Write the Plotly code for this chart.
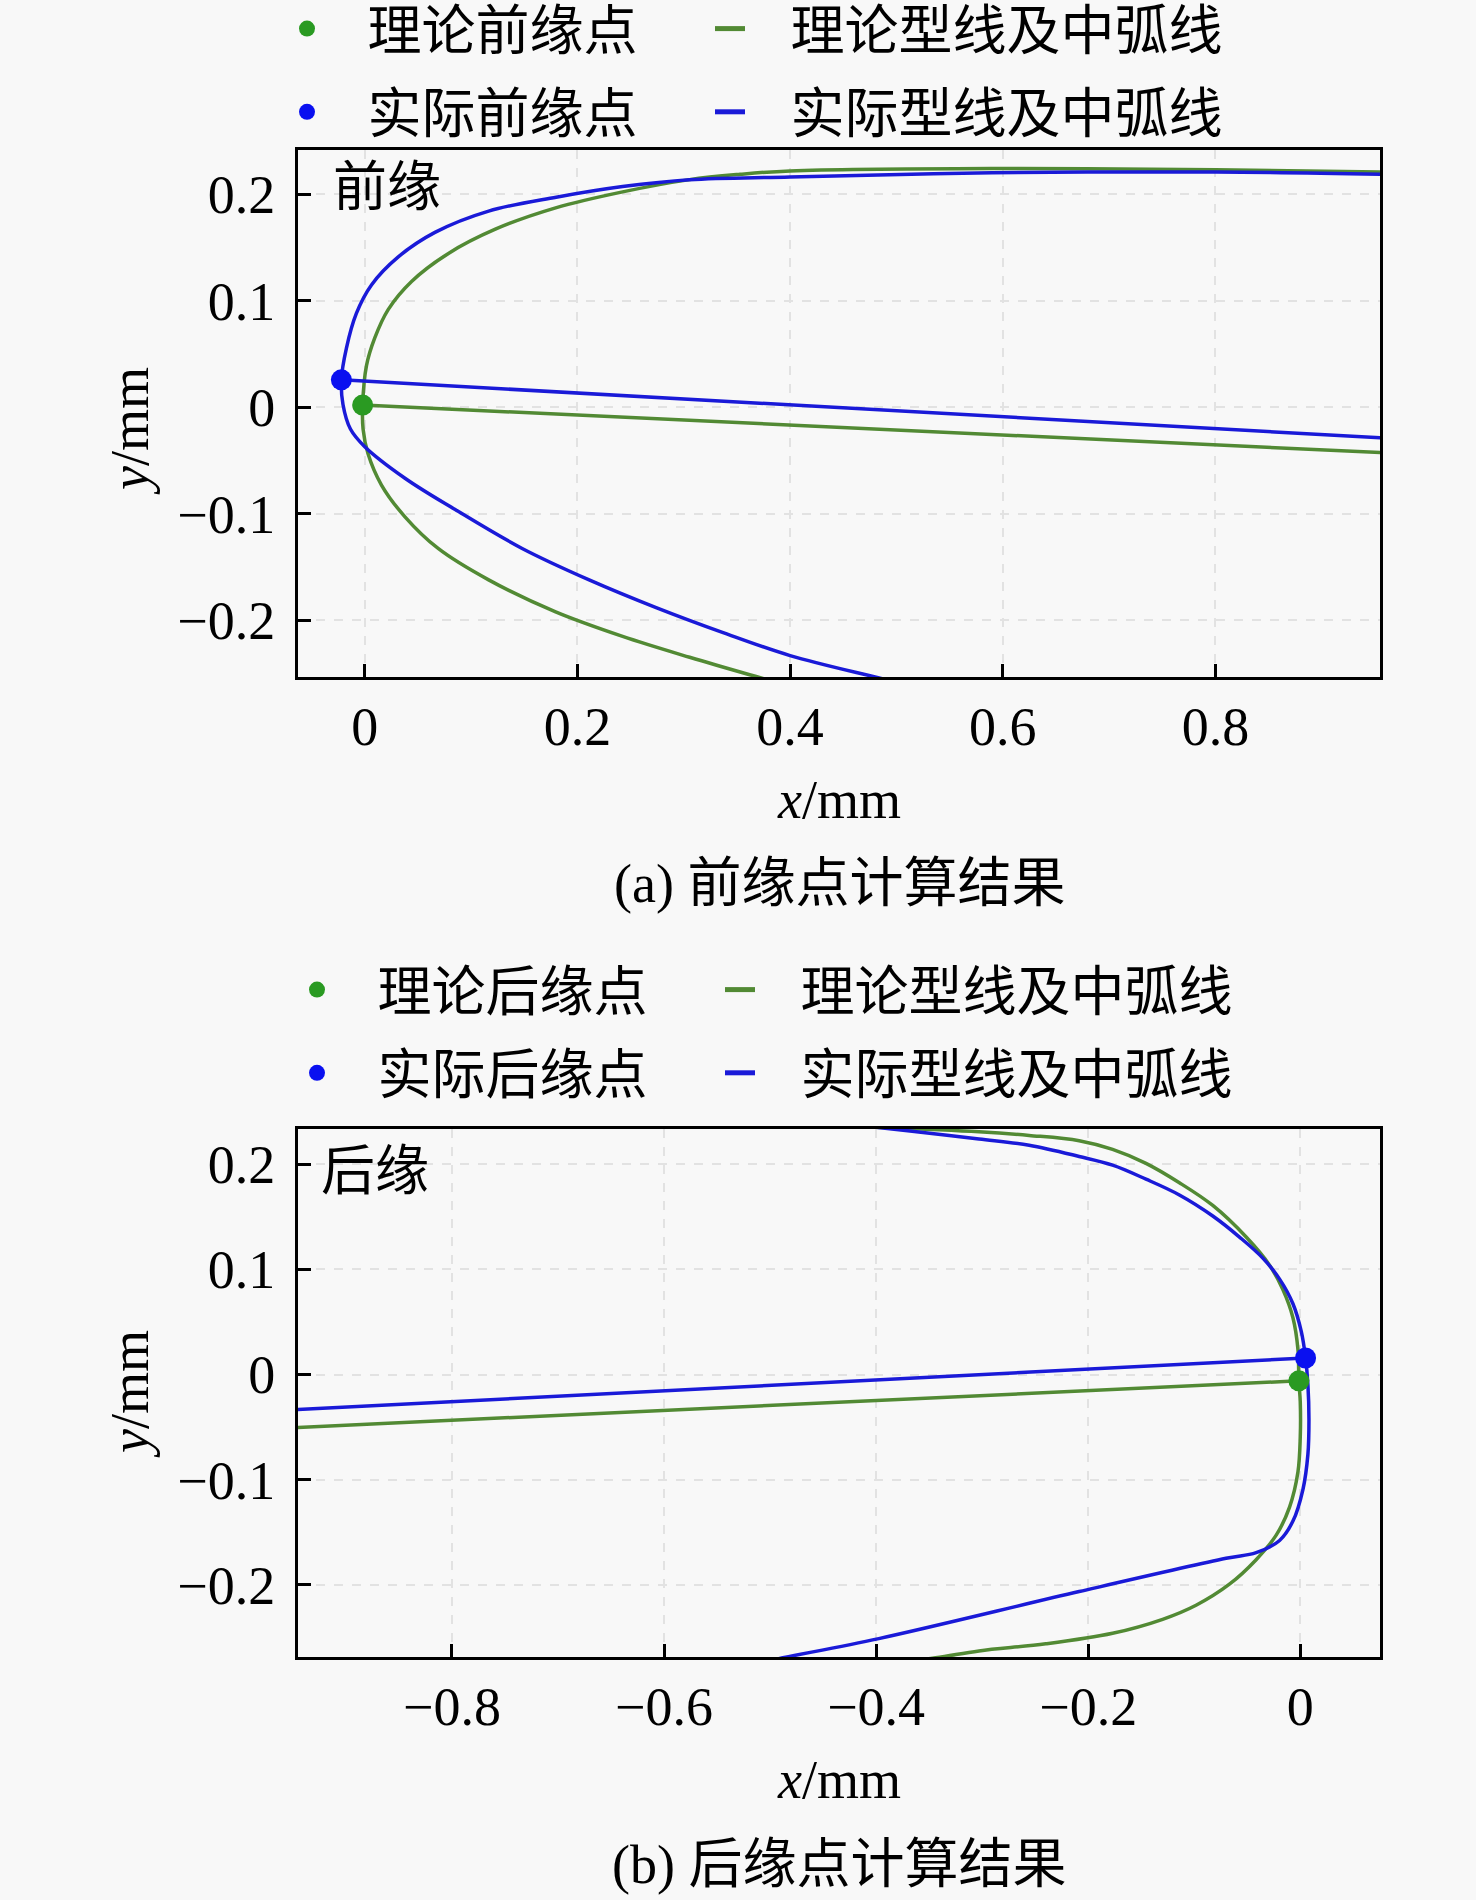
import plotly.graph_objects as go

# ---- (a) leading edge ----
le_theo_pt = (-0.002, 0.002)
le_real_pt = (-0.022, 0.0257)

le_theo_upper_x = [-0.002, 0.0016, 0.0094, 0.022, 0.044, 0.0787, 0.1228, 0.1795, 0.2425, 0.3055, 0.353, 0.4, 0.59, 0.8, 0.96]
le_theo_upper_y = [0.002, 0.039, 0.065, 0.0916, 0.118, 0.1443, 0.167, 0.187, 0.202, 0.2135, 0.2185, 0.2217, 0.224, 0.2227, 0.2205]
le_theo_lower_x = [-0.002, -0.0016, 0.003, 0.0157, 0.0378, 0.069, 0.1165, 0.1795, 0.2425, 0.3055, 0.362, 0.38]
le_theo_lower_y = [0.002, -0.0204, -0.0435, -0.073, -0.1028, -0.1325, -0.162, -0.192, -0.215, -0.2346, -0.251, -0.256]
le_theo_camber_x = [-0.002, 0.96]
le_theo_camber_y = [0.002, -0.0428]

le_real_upper_x = [-0.022, -0.0173, -0.0079, 0.0063, 0.0315, 0.066, 0.1165, 0.18, 0.2425, 0.3055, 0.4, 0.59, 0.8, 0.96]
le_real_upper_y = [0.0257, 0.0553, 0.088, 0.1147, 0.141, 0.164, 0.184, 0.197, 0.207, 0.2135, 0.216, 0.22, 0.2207, 0.2185]
le_real_lower_x = [-0.022, -0.0205, -0.0135, 0.0, 0.0378, 0.085, 0.148, 0.211, 0.274, 0.337, 0.4, 0.48, 0.5]
le_real_lower_y = [0.0257, 0.0026, -0.0204, -0.037, -0.0666, -0.096, -0.1325, -0.162, -0.188, -0.2115, -0.233, -0.2531, -0.258]
le_real_camber_x = [-0.022, 0.96]
le_real_camber_y = [0.0257, -0.029]

# ---- (b) trailing edge ----
te_theo_pt = (-0.0013, -0.006)
te_real_pt = (0.005, 0.0157)

te_theo_upper_x = [-0.0013, -0.0022, -0.0069, -0.0164, -0.029, -0.051, -0.0825, -0.114, -0.1455, -0.177, -0.2085, -0.2557, -0.303, -0.4]
te_theo_upper_y = [-0.006, 0.024, 0.054, 0.0807, 0.104, 0.1307, 0.1607, 0.1823, 0.2007, 0.214, 0.2223, 0.2273, 0.2307, 0.235]
te_theo_lower_x = [-0.0013, 0.0, 0.0, -0.0022, -0.0101, -0.0227, -0.0416, -0.0668, -0.0983, -0.1298, -0.177, -0.24, -0.303, -0.344, -0.4]
te_theo_lower_y = [-0.006, -0.026, -0.0593, -0.0927, -0.126, -0.1527, -0.176, -0.1993, -0.2193, -0.2327, -0.246, -0.256, -0.2627, -0.2693, -0.276]
te_theo_camber_x = [-0.0013, -0.96]
te_theo_camber_y = [-0.006, -0.051]

te_real_upper_x = [0.005, 0.001, -0.0069, -0.0195, -0.0353, -0.0573, -0.0825, -0.114, -0.1455, -0.177, -0.2085, -0.2557, -0.303, -0.366, -0.4]
te_real_upper_y = [0.0157, 0.0407, 0.0673, 0.0907, 0.1107, 0.1307, 0.1507, 0.1707, 0.1857, 0.199, 0.2073, 0.218, 0.224, 0.2313, 0.235]
te_real_lower_x = [0.005, 0.0072, 0.0082, 0.0072, 0.0025, -0.0069, -0.0195, -0.0416, -0.07, -0.2085, -0.3975, -0.4866, -0.5]
te_real_lower_y = [0.0157, -0.0093, -0.0427, -0.076, -0.1093, -0.1393, -0.1577, -0.1693, -0.1747, -0.2063, -0.251, -0.269, -0.272]
te_real_camber_x = [0.005, -0.96]
te_real_camber_y = [0.0157, -0.0341]

GREEN_PT = "#2a9a22"
GREEN_LN = "#528a34"
BLUE_PT = "#0a10f0"
BLUE_LN = "#1a1ad8"
FONT = "Liberation Serif, Times New Roman, Noto Sans CJK SC"
FS = 54
W, H = 1476, 1900
PAD_PT = "&nbsp;&nbsp;&nbsp;"
PAD_LN = "&nbsp;&nbsp;&nbsp;"


def px(v):
    return v / W


def py(v):
    return 1 - v / H


fig = go.Figure()


def add_profile(xa, ya, upper, lower, camber, color, name, legend):
    ux, uy = upper
    lx, ly = lower
    xs = list(reversed(lx)) + ux[1:]
    ys = list(reversed(ly)) + uy[1:]
    group = name + legend
    fig.add_trace(go.Scatter(x=xs, y=ys, mode="lines",
                             line=dict(color=color, width=3.5, shape="spline", smoothing=1.0),
                             name=name, legendgroup=group, showlegend=False,
                             legend=legend, xaxis=xa, yaxis=ya))
    fig.add_trace(go.Scatter(x=camber[0], y=camber[1], mode="lines", line=dict(color=color, width=3.5),
                             name=name, legendgroup=group, showlegend=False,
                             legend=legend, xaxis=xa, yaxis=ya))
    # legend entry only (thicker key like the reference)
    fig.add_trace(go.Scatter(x=[None], y=[None], mode="lines", line=dict(color=color, width=5),
                             name=PAD_LN + name, legendgroup=group,
                             legend=legend, xaxis=xa, yaxis=ya))


def add_point(xa, ya, pt, color, name, legend):
    fig.add_trace(go.Scatter(x=[pt[0]], y=[pt[1]], mode="markers",
                             marker=dict(color=color, size=21), name=PAD_PT + name,
                             legendgroup=name + legend, legend=legend, xaxis=xa, yaxis=ya))


# top panel
add_profile("x", "y", (le_theo_upper_x, le_theo_upper_y), (le_theo_lower_x, le_theo_lower_y),
            (le_theo_camber_x, le_theo_camber_y), GREEN_LN, "理论型线及中弧线", "legend2")
add_profile("x", "y", (le_real_upper_x, le_real_upper_y), (le_real_lower_x, le_real_lower_y),
            (le_real_camber_x, le_real_camber_y), BLUE_LN, "实际型线及中弧线", "legend2")
add_point("x", "y", le_theo_pt, GREEN_PT, "理论前缘点", "legend")
add_point("x", "y", le_real_pt, BLUE_PT, "实际前缘点", "legend")

# bottom panel
add_profile("x2", "y2", (te_theo_upper_x, te_theo_upper_y), (te_theo_lower_x, te_theo_lower_y),
            (te_theo_camber_x, te_theo_camber_y), GREEN_LN, "理论型线及中弧线", "legend4")
add_profile("x2", "y2", (te_real_upper_x, te_real_upper_y), (te_real_lower_x, te_real_lower_y),
            (te_real_camber_x, te_real_camber_y), BLUE_LN, "实际型线及中弧线", "legend4")
add_point("x2", "y2", te_theo_pt, GREEN_PT, "理论后缘点", "legend3")
add_point("x2", "y2", te_real_pt, BLUE_PT, "实际后缘点", "legend3")

axis_common = dict(
    showline=True, linecolor="black", linewidth=3, mirror=True,
    ticks="inside", ticklen=13, tickwidth=3, tickcolor="black",
    showgrid=True, gridcolor="#e2e2e2", griddash="dash", gridwidth=1.5,
    zeroline=False, tickfont=dict(family=FONT, size=FS, color="black"),
    dtick=0.1,
)

legend_common = dict(font=dict(family=FONT, size=FS, color="black"), bgcolor="rgba(0,0,0,0)",
                     orientation="v", xanchor="left", yanchor="top", tracegroupgap=10,
                     itemsizing="trace")

fig.update_layout(
    width=W, height=H,
    # legends sit above the top panel, keep them from pushing the margins
    margin=dict(l=0, r=0, t=0, b=0, autoexpand=False),
    paper_bgcolor="#f8f8f8", plot_bgcolor="#f8f8f8",
    font=dict(family=FONT, size=FS, color="black"),
    xaxis=dict(axis_common, domain=[px(298), px(1380)], range=[-0.0628, 0.9548], dtick=0.2,
               anchor="y", ticklabelstandoff=0),
    yaxis=dict(axis_common, domain=[py(677), py(150)], range=[-0.2531, 0.2413],
               anchor="x", ticklabelstandoff=9),
    xaxis2=dict(axis_common, domain=[px(298), px(1380)], range=[-0.9452, 0.0752], dtick=0.2,
                anchor="y2", ticklabelstandoff=0),
    yaxis2=dict(axis_common, domain=[py(1657), py(1129)], range=[-0.2685, 0.2334],
                anchor="x2", ticklabelstandoff=9),
    legend=dict(legend_common, x=px(287), y=py(-13)),
    legend2=dict(legend_common, x=px(710), y=py(-13)),
    legend3=dict(legend_common, x=px(297), y=py(948)),
    legend4=dict(legend_common, x=px(720), y=py(948)),
)

annotations = [
    dict(text="前缘", x=px(331), y=py(188)),
    dict(text="后缘", x=px(319), y=py(1172)),
]
for a in annotations:
    a.update(xref="paper", yref="paper", xanchor="left", yanchor="middle", showarrow=False,
             font=dict(family=FONT, size=FS, color="black"))
    fig.add_annotation(**a)

centered = [
    dict(text="<i>y</i>/mm", x=px(130), y=py(431), textangle=-90),
    dict(text="<i>x</i>/mm", x=px(839), y=py(800)),
    dict(text="(a) 前缘点计算结果", x=px(839), y=py(884)),
    dict(text="<i>y</i>/mm", x=px(130), y=py(1394), textangle=-90),
    dict(text="<i>x</i>/mm", x=px(839), y=py(1780)),
    dict(text="(b) 后缘点计算结果", x=px(839), y=py(1865)),
]
for a in centered:
    a.update(xref="paper", yref="paper", xanchor="center", yanchor="middle", showarrow=False,
             font=dict(family=FONT, size=FS, color="black"))
    fig.add_annotation(**a)

# the page body has a default 8px margin; drop it so the figure fills the window
fig.write_html("out.html", config={"displayModeBar": False},
               post_script="document.body.style.margin='0';document.body.style.background='#f8f8f8';")
